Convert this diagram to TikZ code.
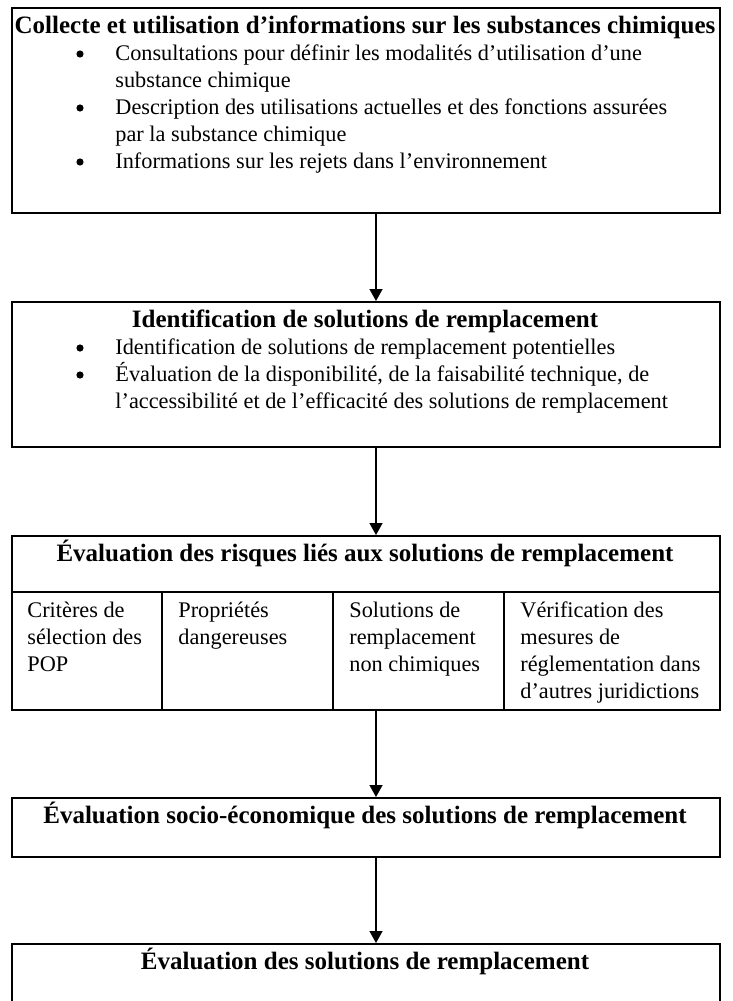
\documentclass[tikz,border=0pt]{standalone}
\usepackage{fontspec}
\setmainfont{Liberation Serif}
\usetikzlibrary{arrows.meta,positioning}

\tikzset{
  frame/.style={draw, line width=1pt, anchor=north west, inner sep=0pt, minimum width=354pt},
  divider/.style={line width=0.75pt},
  heading/.style={anchor=base, inner sep=0pt, font=\fontsize{12.5}{13.5}\selectfont\bfseries},
  entry/.style={anchor=base west, inner sep=0pt, align=left, font=\fontsize{11.15}{13.5}\selectfont},
  dot/.style={circle, fill, inner sep=0pt, minimum size=3.6pt},
  flow/.style={line width=0.75pt, -{Triangle[length=6pt, width=6.5pt]}}
}

\begin{document}
\begin{tikzpicture}[x=0.5pt, y=-0.5pt]
  \useasboundingbox (0,0) rectangle (733,1001);
  \clip (0,0) rectangle (733,1001);
  \coordinate (spine) at (376,0);

  % multi-line entries sit on the baseline of their last line
  \node[frame, minimum height=102.5pt] (collect) at (11,7) {};
  \node[heading] (collect-title) at (365,33) {Collecte et utilisation d’informations sur les substances chimiques};
  \node[dot] (collect-dot1) at (80,54) {};
  \node[entry] (collect-item1) at (115,87) {Consultations pour définir les modalités d’utilisation d’une\\substance chimique};
  \node[dot] (collect-dot2) at (80,108) {};
  \node[entry] (collect-item2) at (115,141) {Description des utilisations actuelles et des fonctions assurées\\par la substance chimique};
  \node[dot] (collect-dot3) at (80,162) {};
  \node[entry] (collect-item3) at (115,168) {Informations sur les rejets dans l’environnement};

  \node[frame, minimum height=72.5pt] (options) at (11,301) {};
  \node[heading] (options-title) at (365,327) {Identification de solutions de remplacement};
  \node[dot] (options-dot1) at (80,348) {};
  \node[entry] (options-item1) at (115,354) {Identification de solutions de remplacement potentielles};
  \node[dot] (options-dot2) at (80,375) {};
  \node[entry] (options-item2) at (115,408) {Évaluation de la disponibilité, de la faisabilité technique, de\\l’accessibilité et de l’efficacité des solutions de remplacement};

  \node[frame, minimum height=87pt] (risk) at (11,535) {};
  \node[heading] (risk-title) at (365,561) {Évaluation des risques liés aux solutions de remplacement};
  \draw[divider] (11,592) -- (719,592);
  \foreach \x in {162,333,504}
    \draw[divider] (\x,592) -- (\x,709);
  \node[entry] (risk-pop) at (27,671) {Critères de\\sélection des\\POP};
  \node[entry] (risk-hazard) at (178,644) {Propriétés\\dangereuses};
  \node[entry] (risk-nonchem) at (349,671) {Solutions de\\remplacement\\non chimiques};
  \node[entry] (risk-rules) at (520,698) {Vérification des\\mesures de\\réglementation dans\\d’autres juridictions};

  \node[frame, minimum height=29.5pt] (socio) at (11,797) {};
  \node[heading] (socio-title) at (365,823) {Évaluation socio-économique des solutions de remplacement};

  \node[frame, minimum height=50pt] (final) at (11,943) {};
  \node[heading] (final-title) at (365,969) {Évaluation des solutions de remplacement};

  \foreach \a/\b in {collect/options, options/risk, risk/socio, socio/final}
    \draw[flow] (spine |- \a.south) -- (spine |- \b.north);
\end{tikzpicture}
\end{document}
